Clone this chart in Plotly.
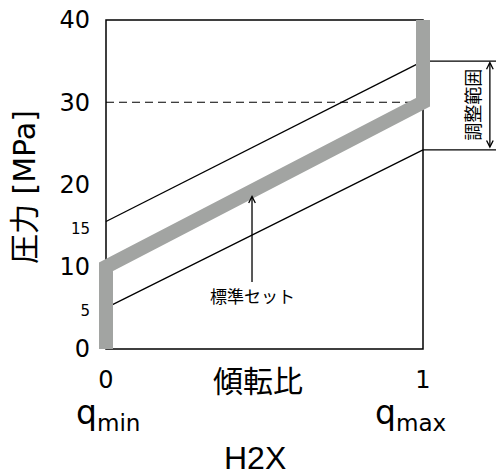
import plotly.graph_objects as go

# ---- data ----
x_ends = [0, 1]
upper_line = [15.5, 35.0]
lower_line = [5.0, 24.2]
limit_line = [30, 30]
std_x = [0, 0, 1, 1]
std_y = [0, 10, 30, 40]

y_tickvals = [0, 5, 10, 15, 20, 30, 40]
y_ticksize = [24, 15, 24, 15, 24, 24, 24]
x_tickvals = [0, 1]
x_ticktext = ["0", "1"]

X_RANGE = [-0.02524, 1.2303]
Y_RANGE = [-0.243, 40.243]

JP = "Noto Sans CJK JP"
LAT = "DejaVu Sans, Noto Sans CJK JP"
GRAY = "#a2a4a2"

fig = go.Figure()

# frame
fig.add_shape(type="rect", xref="x", yref="y",
              x0=x_ends[0], x1=x_ends[1], y0=y_tickvals[0], y1=y_tickvals[-1],
              line=dict(color="black", width=1.5), layer="below")

fig.add_trace(go.Scatter(x=x_ends, y=upper_line, mode="lines",
                         line=dict(color="black", width=1.3)))
fig.add_trace(go.Scatter(x=x_ends, y=lower_line, mode="lines",
                         line=dict(color="black", width=1.3)))
fig.add_trace(go.Scatter(x=x_ends, y=limit_line, mode="lines",
                         line=dict(color="black", width=1.2, dash="8px,5px")))
# bracket horizontals
fig.add_trace(go.Scatter(x=[x_ends[1], X_RANGE[1]], y=[upper_line[1]] * 2, mode="lines",
                         line=dict(color="black", width=1.3)))
fig.add_trace(go.Scatter(x=[x_ends[1], X_RANGE[1]], y=[lower_line[1]] * 2, mode="lines",
                         line=dict(color="black", width=1.3)))
# standard setting (thick gray)
fig.add_trace(go.Scatter(x=std_x, y=std_y, mode="lines",
                         line=dict(color=GRAY, width=14)))

ticktext_y = [f'<span style="font-size:{s}px">{v}</span>' for v, s in zip(y_tickvals, y_ticksize)]

fig.update_layout(
    width=496, height=475,
    margin=dict(l=98, r=0, t=18, b=124, pad=0),
    plot_bgcolor="white", paper_bgcolor="white",
    showlegend=False,
    font=dict(family=LAT, color="black"),
    xaxis=dict(range=X_RANGE, tickvals=x_tickvals, ticktext=x_ticktext,
               showgrid=False, zeroline=False, showline=False, ticks="",
               tickfont=dict(size=24, family=LAT, color="black"),
               ticklabelstandoff=12),
    yaxis=dict(range=Y_RANGE, tickvals=y_tickvals, ticktext=ticktext_y,
               showgrid=False, zeroline=False, showline=False, ticks="",
               tickfont=dict(size=24, family=LAT, color="black"),
               ticklabelstandoff=7),
)

C = dict(xanchor="center", yanchor="middle")
ann = []
# double arrow of adjustment range
ann.append(dict(x=1.211, y=upper_line[1], ax=1.211, ay=lower_line[1],
                xref="x", yref="y", axref="x", ayref="y", text="",
                showarrow=True, arrowside="end+start", arrowhead=5, startarrowhead=5,
                arrowwidth=1.3, arrowsize=1, startarrowsize=1, arrowcolor="black",
                standoff=0, startstandoff=0))
ann.append(dict(x=1.1546, y=29.7, xref="x", yref="y", text="調整範囲",
                textangle=-90, showarrow=False, **C,
                font=dict(family=JP, size=18, color="black")))
ann.append(dict(x=0.4606, y=18.72, ax=0.4606, ay=6.56, xref="x", yref="y",
                axref="x", ayref="y", text="標準セット", showarrow=True,
                arrowhead=5, arrowwidth=1.3, arrowsize=1, arrowcolor="black",
                standoff=0, borderpad=0,
                font=dict(family=JP, size=17, color="black")))
ann.append(dict(x=0.48, y=-0.0841, xref="x", yref="paper", text="傾転比",
                showarrow=False, **C, font=dict(family=JP, size=30, color="black")))
ann.append(dict(x=0.008, y=-0.19, xref="x", yref="paper", text="q<sub>min</sub>",
                showarrow=False, **C, font=dict(family="DejaVu Sans", size=33, color="black")))
ann.append(dict(x=0.962, y=-0.19, xref="x", yref="paper", text="q<sub>max</sub>",
                showarrow=False, **C, font=dict(family="DejaVu Sans", size=33, color="black")))
ann.append(dict(x=0.47, y=-0.321, xref="x", yref="paper", text="H2X",
                showarrow=False, **C, font=dict(family="Liberation Sans", size=32, color="black")))
ann.append(dict(x=-0.1834, y=0.4925, xref="paper", yref="paper", text="圧力 [MPa]",
                textangle=-90, showarrow=False, **C,
                font=dict(family=LAT, size=30, color="black")))
fig.update_layout(annotations=ann)

fig.write_html("out.html", config={"displayModeBar": False},
               post_script="document.body.style.margin='0';document.body.style.overflow='hidden';")
